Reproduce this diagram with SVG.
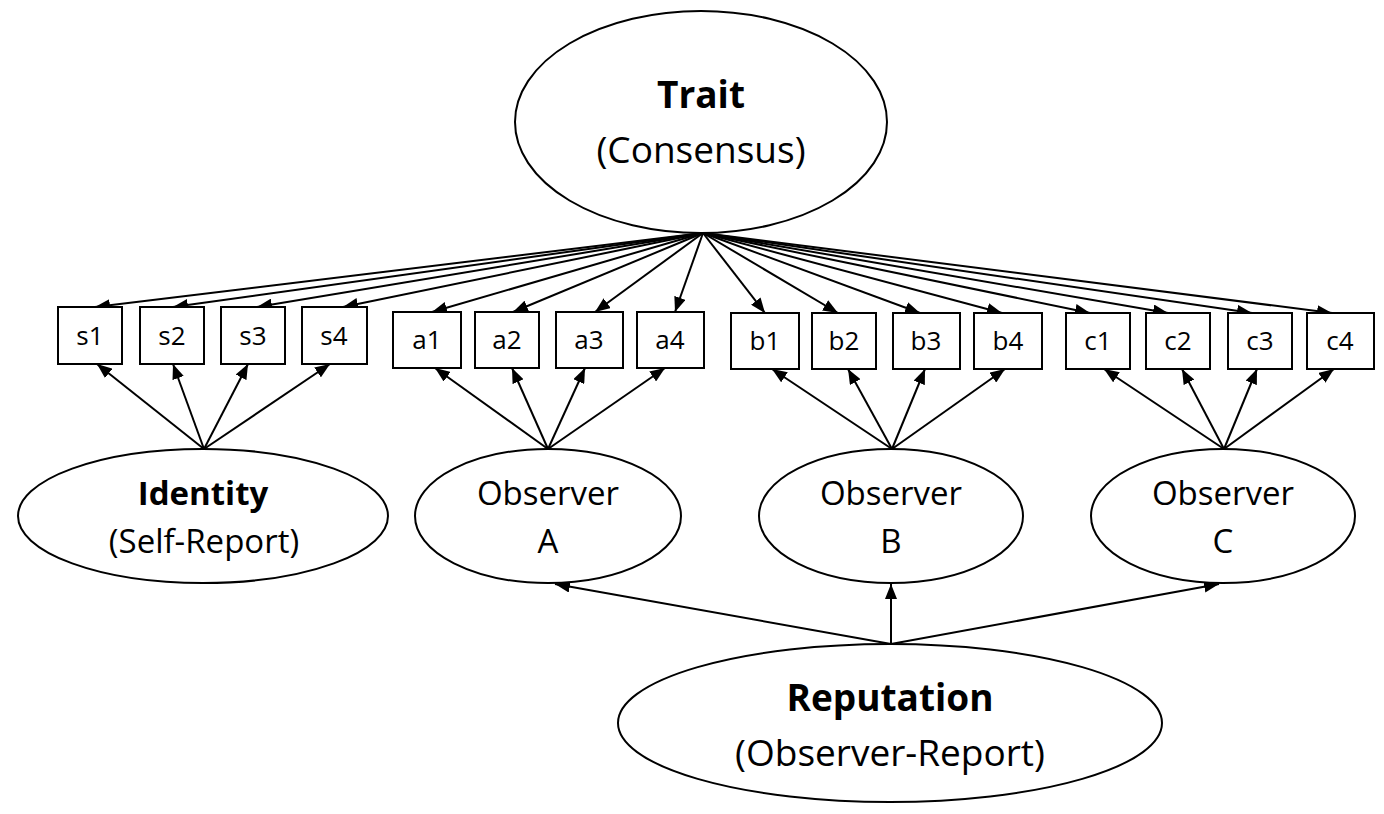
<svg xmlns="http://www.w3.org/2000/svg" width="1384" height="814" viewBox="0 0 1384 814">
<defs>
<marker id="ah" markerWidth="15" markerHeight="12" refX="15" refY="6" orient="auto" markerUnits="userSpaceOnUse">
<path d="M0,0 L15,6 L0,12 z" fill="#000"/>
</marker>
<style>
.el{fill:#fff;stroke:#000;stroke-width:2}
.bx{fill:#fff;stroke:#000;stroke-width:2}
.ln{stroke:#000;stroke-width:2;fill:none;marker-end:url(#ah)}
.t{font-family:"Open Sans","Noto Sans","Liberation Sans",sans-serif;fill:#000;text-anchor:middle}
.big{font-size:37px}
.mid{font-size:33px}
.sm{font-size:26px}
.b{font-weight:bold}
</style>
</defs>
<rect width="1384" height="814" fill="#fff"/>

<g id="connectors">
<line class="ln" x1="703" y1="233" x2="95" y2="307"/>
<line class="ln" x1="703" y1="233" x2="173" y2="307"/>
<line class="ln" x1="703" y1="233" x2="257" y2="307"/>
<line class="ln" x1="703" y1="233" x2="343" y2="307"/>
<line class="ln" x1="703" y1="233" x2="432" y2="312"/>
<line class="ln" x1="703" y1="233" x2="513" y2="312"/>
<line class="ln" x1="703" y1="233" x2="595" y2="312"/>
<line class="ln" x1="703" y1="233" x2="675" y2="312"/>
<line class="ln" x1="703" y1="233" x2="765" y2="313"/>
<line class="ln" x1="703" y1="233" x2="838" y2="313"/>
<line class="ln" x1="703" y1="233" x2="920" y2="313"/>
<line class="ln" x1="703" y1="233" x2="1002" y2="313"/>
<line class="ln" x1="703" y1="233" x2="1090" y2="313"/>
<line class="ln" x1="703" y1="233" x2="1168" y2="313"/>
<line class="ln" x1="703" y1="233" x2="1252" y2="313"/>
<line class="ln" x1="703" y1="233" x2="1332" y2="313"/>
<line class="ln" x1="204" y1="449" x2="97" y2="364"/>
<line class="ln" x1="204" y1="449" x2="173" y2="364"/>
<line class="ln" x1="204" y1="449" x2="248" y2="364"/>
<line class="ln" x1="204" y1="449" x2="330" y2="364"/>
<line class="ln" x1="548" y1="449" x2="435" y2="368"/>
<line class="ln" x1="548" y1="449" x2="512" y2="368"/>
<line class="ln" x1="548" y1="449" x2="585" y2="368"/>
<line class="ln" x1="548" y1="449" x2="665" y2="368"/>
<line class="ln" x1="892" y1="449" x2="772" y2="369"/>
<line class="ln" x1="892" y1="449" x2="848" y2="369"/>
<line class="ln" x1="892" y1="449" x2="925" y2="369"/>
<line class="ln" x1="892" y1="449" x2="1005" y2="369"/>
<line class="ln" x1="1224" y1="449" x2="1104" y2="369"/>
<line class="ln" x1="1224" y1="449" x2="1182" y2="369"/>
<line class="ln" x1="1224" y1="449" x2="1257" y2="369"/>
<line class="ln" x1="1224" y1="449" x2="1334" y2="369"/>
<line class="ln" x1="891" y1="644" x2="555" y2="584"/>
<line class="ln" x1="891" y1="644" x2="891" y2="584"/>
<line class="ln" x1="891" y1="644" x2="1219" y2="584"/>
</g>

<g id="trait">
<ellipse class="el" cx="701" cy="122" rx="186" ry="111"/>
<text class="t big b" x="701" y="108">Trait</text>
<text class="t big" x="701" y="163">(Consensus)</text>
</g>

<g id="s1"><rect class="bx" x="58" y="307" width="64" height="57"/><text class="t sm" x="90" y="345">s1</text></g>
<g id="s2"><rect class="bx" x="140" y="307" width="64" height="57"/><text class="t sm" x="172" y="345">s2</text></g>
<g id="s3"><rect class="bx" x="221" y="307" width="64" height="57"/><text class="t sm" x="253" y="345">s3</text></g>
<g id="s4"><rect class="bx" x="302" y="307" width="65" height="57"/><text class="t sm" x="334" y="345">s4</text></g>

<g id="a1"><rect class="bx" x="393" y="312" width="68" height="56"/><text class="t sm" x="427" y="349">a1</text></g>
<g id="a2"><rect class="bx" x="475" y="312" width="64" height="56"/><text class="t sm" x="507" y="349">a2</text></g>
<g id="a3"><rect class="bx" x="556" y="312" width="67" height="56"/><text class="t sm" x="589" y="349">a3</text></g>
<g id="a4"><rect class="bx" x="637" y="312" width="67" height="56"/><text class="t sm" x="670" y="349">a4</text></g>

<g id="b1"><rect class="bx" x="731" y="313" width="68" height="56"/><text class="t sm" x="765" y="350">b1</text></g>
<g id="b2"><rect class="bx" x="812" y="313" width="64" height="56"/><text class="t sm" x="844" y="350">b2</text></g>
<g id="b3"><rect class="bx" x="893" y="313" width="67" height="56"/><text class="t sm" x="926" y="350">b3</text></g>
<g id="b4"><rect class="bx" x="974" y="313" width="68" height="56"/><text class="t sm" x="1008" y="350">b4</text></g>

<g id="c1"><rect class="bx" x="1066" y="313" width="64" height="56"/><text class="t sm" x="1098" y="350">c1</text></g>
<g id="c2"><rect class="bx" x="1146" y="313" width="64" height="56"/><text class="t sm" x="1178" y="350">c2</text></g>
<g id="c3"><rect class="bx" x="1228" y="313" width="64" height="56"/><text class="t sm" x="1260" y="350">c3</text></g>
<g id="c4"><rect class="bx" x="1307" y="313" width="67" height="56"/><text class="t sm" x="1340" y="350">c4</text></g>

<g id="identity">
<ellipse class="el" cx="203" cy="516" rx="185" ry="67"/>
<text class="t mid b" x="203" y="505">Identity</text>
<text class="t mid" x="204" y="553">(Self-Report)</text>
</g>

<g id="observerA">
<ellipse class="el" cx="548" cy="516" rx="133" ry="67"/>
<text class="t mid" x="548" y="505">Observer</text>
<text class="t mid" x="548" y="553">A</text>
</g>

<g id="observerB">
<ellipse class="el" cx="891" cy="516" rx="132" ry="67"/>
<text class="t mid" x="891" y="505">Observer</text>
<text class="t mid" x="891" y="553">B</text>
</g>

<g id="observerC">
<ellipse class="el" cx="1223" cy="516" rx="132" ry="67"/>
<text class="t mid" x="1223" y="505">Observer</text>
<text class="t mid" x="1223" y="553">C</text>
</g>

<g id="reputation">
<ellipse class="el" cx="890" cy="723" rx="272" ry="79"/>
<text class="t big b" x="890" y="711">Reputation</text>
<text class="t big" x="890" y="766">(Observer-Report)</text>
</g>
</svg>
